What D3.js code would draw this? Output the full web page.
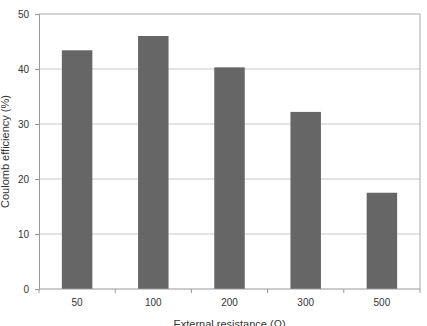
<!DOCTYPE html>
<html>
<head>
<meta charset="utf-8">
<script src="https://cdn.jsdelivr.net/npm/d3@7"></script>
<style>
    body { margin: 0; background: #fff; }
    text { font-family: "Liberation Sans", Arial, sans-serif; }
</style>
</head>
<body>
<svg id="chart"></svg>
<script>
const categories = ["50", "100", "200", "300", "500"];
const efficiency = [43.4, 46.0, 40.3, 32.2, 17.5];
const yTicks = [0, 10, 20, 30, 40, 50];

const width = 427, height = 326;
const margin = {top: 14, right: 7, bottom: 37, left: 39};

const svg = d3.select("#chart").attr("width", width).attr("height", height);

const xScale = d3.scaleBand()
    .domain(categories)
    .range([margin.left, width - margin.right])
    .paddingInner(0.6)
    .paddingOuter(0.3);

const yScale = d3.scaleLinear()
    .domain([0, 50])
    .range([height - margin.bottom, margin.top]);

// gridlines
svg.append("g")
    .selectAll("line")
    .data(yTicks.slice(1))
    .enter()
    .append("line")
    .attr("x1", margin.left)
    .attr("x2", width - margin.right)
    .attr("y1", d => yScale(d))
    .attr("y2", d => yScale(d))
    .attr("stroke", d => d === 50 ? "#aaa" : "#c8c8c8")
    .attr("stroke-width", 1);

// right border
svg.append("line")
    .attr("x1", width - margin.right).attr("x2", width - margin.right)
    .attr("y1", margin.top).attr("y2", height - margin.bottom)
    .attr("stroke", "#aaa");

// bars
svg.append("g")
    .selectAll("rect")
    .data(efficiency)
    .enter()
    .append("rect")
    .attr("x", (d, i) => xScale(categories[i]))
    .attr("y", d => yScale(d))
    .attr("width", xScale.bandwidth())
    .attr("height", d => yScale(0) - yScale(d))
    .attr("fill", "#666");

// y axis
const yAxis = svg.append("g")
    .attr("transform", `translate(${margin.left},0)`)
    .call(d3.axisLeft(yScale).tickValues(yTicks).tickSize(4).tickPadding(6));
yAxis.select(".domain").attr("stroke", "#999");
yAxis.selectAll(".tick line").attr("stroke", "#999");
yAxis.selectAll("text").attr("fill", "#333").attr("font-size", 10);

// x axis: ticks at band boundaries
const step = xScale.step();
const bounds = d3.range(categories.length + 1).map(i => margin.left + i * step);
svg.append("line")
    .attr("x1", margin.left).attr("x2", width - margin.right)
    .attr("y1", yScale(0)).attr("y2", yScale(0))
    .attr("stroke", "#999");
svg.append("g")
    .selectAll("line")
    .data(bounds)
    .enter()
    .append("line")
    .attr("x1", d => d).attr("x2", d => d)
    .attr("y1", yScale(0)).attr("y2", yScale(0) + 4)
    .attr("stroke", "#999");
svg.append("g")
    .selectAll("text")
    .data(categories)
    .enter()
    .append("text")
    .attr("x", d => xScale(d) + xScale.bandwidth() / 2)
    .attr("y", yScale(0) + 17)
    .attr("text-anchor", "middle")
    .attr("fill", "#333")
    .attr("font-size", 10)
    .text(d => d);

// axis titles
svg.append("text")
    .attr("x", (margin.left + width - margin.right) / 2)
    .attr("y", height + 2)
    .attr("text-anchor", "middle")
    .attr("fill", "#333")
    .attr("font-size", 11)
    .text("External resistance (Ω)");

svg.append("text")
    .attr("transform", `translate(9,${(margin.top + height - margin.bottom) / 2}) rotate(-90)`)
    .attr("text-anchor", "middle")
    .attr("fill", "#333")
    .attr("font-size", 11)
    .text("Coulomb efficiency (%)");
</script>
</body>
</html>
